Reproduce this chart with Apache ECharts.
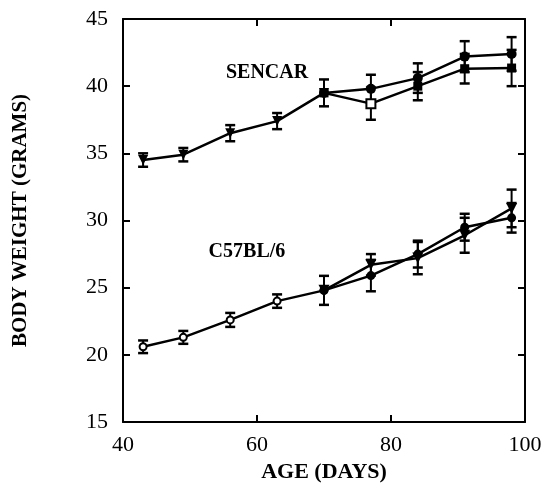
<!DOCTYPE html>
<html>
<head>
<meta charset="utf-8">
<script src="https://cdn.jsdelivr.net/npm/echarts@6/dist/echarts.min.js"></script>
<style>html,body{margin:0;padding:0;background:#fff}#c{width:547px;height:489px}</style>
</head>
<body>
<div id="c"></div>
<script>
// ---- data ----
var xTicks = [40, 60, 80, 100];
var yTicks = [15, 20, 25, 30, 35, 40, 45];
var daysEarly = [43, 49, 56, 63, 70];
var daysLate = [70, 77, 84, 91, 98];

var sencarEarly = [34.5, 34.9, 36.5, 37.4, 39.5];
var sencarEarlyErr = [0.5, 0.5, 0.6, 0.6, 1.0];
var sencarUpper = [39.5, 39.8, 40.6, 42.2, 42.4];
var sencarUpperErr = [1.0, 1.05, 1.1, 1.15, 1.25];
var sencarLower = [39.5, 38.7, 40.0, 41.3, 41.35];
var sencarLowerErr = [1.0, 1.2, 1.05, 1.1, 1.35];

var c57Early = [20.6, 21.3, 22.6, 24.0, 24.8];
var c57EarlyErr = [0.47, 0.48, 0.52, 0.5, 1.08];
var c57Tri = [24.8, 26.7, 27.2, 28.9, 30.9];
var c57TriErr = [1.08, 0.8, 1.2, 1.3, 1.4];
var c57Circ = [24.8, 25.9, 27.5, 29.5, 30.2];
var c57CircErr = [1.08, 1.17, 1.0, 1.0, 1.1];

var labels = [
  {text: 'SENCAR', x: 61.5, y: 41.0},
  {text: 'C57BL/6', x: 58.5, y: 27.7}
];

// ---- helpers ----
function pts(xs, ys) { return xs.map(function (x, i) { return [x, ys[i]]; }); }
function errs(xs, ys, es, skipFirst) {
  var out = [];
  xs.forEach(function (x, i) {
    if (skipFirst && i === 0) return;
    out.push([x, ys[i] - es[i], ys[i] + es[i]]);
  });
  return out;
}
var FONT = 'Liberation Serif';
function lineSeries(name, xs, ys, symbol, opts) {
  opts = opts || {};
  return {
    name: name, type: 'line', data: pts(xs, ys),
    symbol: symbol, symbolSize: opts.size || 9, symbolRotate: opts.rotate || 0,
    showAllSymbol: true,
    lineStyle: {color: '#000', width: 2.5},
    itemStyle: {color: opts.fill || '#000', borderColor: '#000', borderWidth: opts.border || 0},
    z: 3, animation: false
  };
}
function errSeries(data) {
  return {
    type: 'custom', data: data, z: 2, animation: false,
    renderItem: function (params, api) {
      var x = api.value(0);
      var lo = api.coord([x, api.value(1)]);
      var hi = api.coord([x, api.value(2)]);
      var w = 5;
      var st = {stroke: '#000', lineWidth: 2};
      return {type: 'group', children: [
        {type: 'line', shape: {x1: lo[0], y1: lo[1], x2: hi[0], y2: hi[1]}, style: st},
        {type: 'line', shape: {x1: lo[0] - w, y1: lo[1], x2: lo[0] + w, y2: lo[1]}, style: {stroke: '#000', lineWidth: 2.5}},
        {type: 'line', shape: {x1: hi[0] - w, y1: hi[1], x2: hi[0] + w, y2: hi[1]}, style: {stroke: '#000', lineWidth: 2.5}}
      ]};
    }
  };
}

var chart = echarts.init(document.getElementById('c'), null, {renderer: 'canvas'});

var sencarLowerSeries = lineSeries('sencarLower', daysLate, sencarLower, 'rect', {size: 9});
// open square at the second point
sencarLowerSeries.data = sencarLowerSeries.data.map(function (d, i) {
  return i === 1 ? {value: d, itemStyle: {color: '#fff', borderColor: '#000', borderWidth: 2}} : d;
});

var axisLine = {show: true, lineStyle: {color: '#000', width: 2}};
var ticks = {show: true, inside: true, length: 7, lineStyle: {color: '#000', width: 2}};
var labelStyle = {color: '#000', fontFamily: FONT, fontSize: 22};

var option = {
  backgroundColor: '#fff',
  animation: false,
  grid: {left: 123, right: 22, top: 19, bottom: 67, containLabel: false},
  xAxis: [{
    type: 'value', min: 40, max: 100, interval: 20, position: 'bottom',
    axisLine: axisLine, axisTick: ticks, splitLine: {show: false},
    axisLabel: Object.assign({margin: 12, formatter: function (v) { return xTicks.indexOf(v) >= 0 ? String(v) : ''; }}, labelStyle),
    name: 'AGE (DAYS)', nameLocation: 'middle', nameGap: 38,
    nameTextStyle: {color: '#000', fontFamily: FONT, fontWeight: 'bold', fontSize: 22}
  }, {
    type: 'value', min: 40, max: 100, interval: 20, position: 'top',
    axisLine: axisLine, axisTick: ticks, axisLabel: {show: false}, splitLine: {show: false}
  }],
  yAxis: [{
    type: 'value', min: 15, max: 45, interval: 5, position: 'left',
    axisLine: axisLine, axisTick: ticks, splitLine: {show: false},
    axisLabel: Object.assign({margin: 15, formatter: function (v) { return yTicks.indexOf(v) >= 0 ? String(v) : ''; }}, labelStyle),
    name: 'BODY WEIGHT (GRAMS)', nameLocation: 'middle', nameGap: 92, nameRotate: 90,
    nameTextStyle: {color: '#000', fontFamily: FONT, fontWeight: 'bold', fontSize: 21}
  }, {
    type: 'value', min: 15, max: 45, interval: 5, position: 'right',
    axisLine: axisLine, axisTick: ticks, axisLabel: {show: false}, splitLine: {show: false}
  }],
  series: [
    lineSeries('sencarEarly', daysEarly, sencarEarly, 'triangle', {size: 10, rotate: 180}),
    lineSeries('sencarUpper', daysLate, sencarUpper, 'circle', {size: 10}),
    sencarLowerSeries,
    lineSeries('c57Early', daysEarly, c57Early, 'circle', {size: 7, fill: '#fff', border: 2}),
    lineSeries('c57Tri', daysLate, c57Tri, 'triangle', {size: 11, rotate: 180}),
    lineSeries('c57Circ', daysLate, c57Circ, 'circle', {size: 9}),
    errSeries(errs(daysEarly, sencarEarly, sencarEarlyErr, false)),
    errSeries(errs(daysLate, sencarUpper, sencarUpperErr, true)),
    errSeries(errs(daysLate, sencarLower, sencarLowerErr, true)),
    errSeries(errs(daysEarly, c57Early, c57EarlyErr, false)),
    errSeries(errs(daysLate, c57Tri, c57TriErr, true)),
    errSeries(errs(daysLate, c57Circ, c57CircErr, true))
  ]
};
chart.setOption(option);

chart.setOption({
  graphic: labels.map(function (l) {
    var p = chart.convertToPixel({gridIndex: 0}, [l.x, l.y]);
    return {
      type: 'text', x: p[0], y: p[1], z: 10,
      style: {text: l.text, fill: '#000', font: 'bold 20px "Liberation Serif"', align: 'center', verticalAlign: 'middle'}
    };
  })
});
</script>
</body>
</html>
